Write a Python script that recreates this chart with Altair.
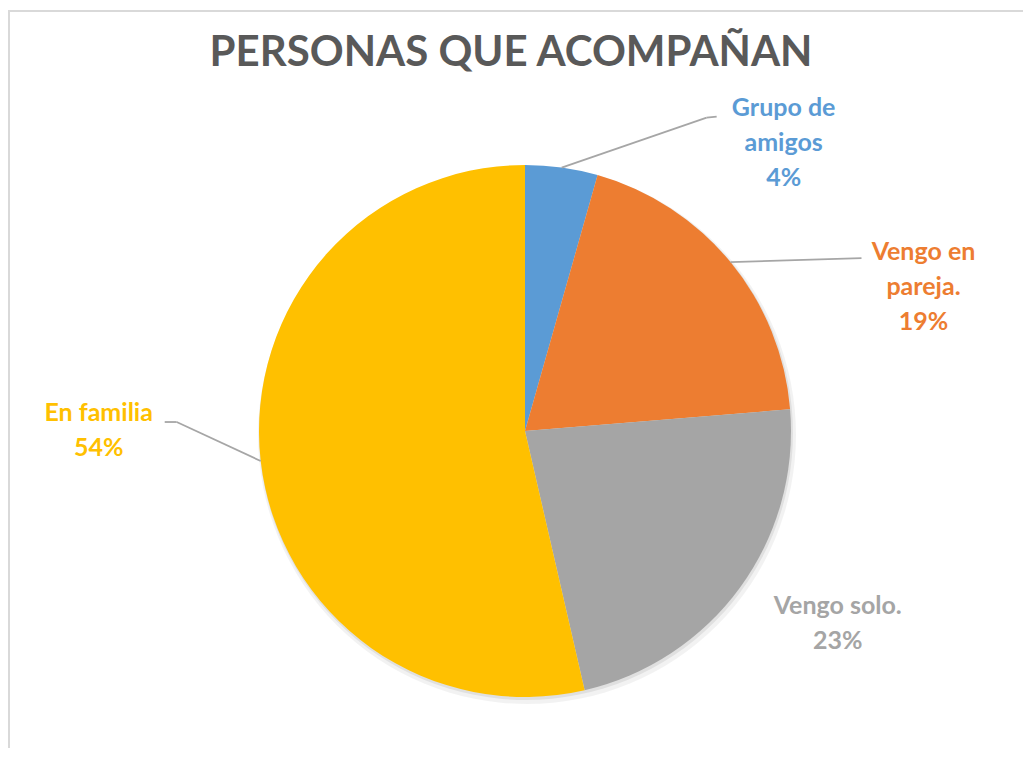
import altair as alt
import pandas as pd

# ---- data ----
categories = ["Grupo de amigos", "Vengo en pareja.", "Vengo solo.", "En familia"]
values = [4.4, 19.3, 22.7, 53.6]
label_names = ["Grupo de\namigos", "Vengo en\npareja.", "Vengo solo.", "En familia"]
colors = ["#5B9BD5", "#ED7D31", "#A5A5A5", "#FFC000"]
TITLE = "PERSONAS QUE ACOMPAÑAN"

total = sum(values)
pct = [f"{round(v / total * 100)}%" for v in values]
df = pd.DataFrame({
    "category": categories,
    "value": values,
    "idx": list(range(len(categories))),
    "label": [f"{n}\n{p}" for n, p in zip(label_names, pct)],
})

# ---- layout (pixels, plot coordinates) ----
CX, CY, R = 517, 423, 266
FONT = "Lato"
# label offset = position of the first text line, relative to the slice's edge midpoint
LAYOUT = {
    "Grupo de amigos": {"label": (222, -60), "leader": [(145, -50), (155, -51)]},
    "Vengo en pareja.": {"label": (193, -10), "leader": [(131, -4)]},
    "Vengo solo.": {"label": (98, 18), "leader": []},
    "En familia": {"label": (-162, -48), "leader": [(-84, -39), (-96, -39)]},
}

color_scale = alt.Scale(domain=categories, range=colors)
base = alt.Chart(df)

geo = base.transform_joinaggregate(tot="sum(value)").transform_window(
    cum="sum(value)", sort=[alt.SortField("idx")], frame=[None, 0]
).transform_calculate(
    mid="(datum.cum - datum.value/2) / datum.tot * 2 * PI",
).transform_calculate(
    ex=f"{CX} + {R} * sin(datum.mid)",
    ey=f"{CY} - {R} * cos(datum.mid)",
)


def pick(idx, comp):
    expr = "0"
    for cat, lay in LAYOUT.items():
        pts = lay["leader"]
        if idx == "label":
            v = lay["label"][comp]
        elif idx < len(pts):
            v = pts[idx][comp]
        else:
            continue
        expr = f"(datum.category === '{cat}' ? {v} : {expr})"
    return expr


pie = base.mark_arc(radius=R, stroke=None).encode(
    theta=alt.Theta("value:Q", stack=True),
    color=alt.Color("category:N", scale=color_scale, legend=None),
    order=alt.Order("idx:Q"),
    x=alt.value(CX),
    y=alt.value(CY),
)

one = alt.Chart(pd.DataFrame({"t": [TITLE]}))
shadow1 = one.mark_arc(radius=R + 3, theta=0, theta2=6.2832, color="#000000", opacity=0.05).encode(
    x=alt.value(CX + 2), y=alt.value(CY + 4))
shadow2 = one.mark_arc(radius=R + 1, theta=0, theta2=6.2832, color="#000000", opacity=0.07).encode(
    x=alt.value(CX + 1), y=alt.value(CY + 2))

# leader lines
leader_layers = []
max_seg = max(len(l["leader"]) for l in LAYOUT.values())
for i in range(max_seg):
    cats_i = [c for c, l in LAYOUT.items() if len(l["leader"]) > i]
    if i == 0:
        sx, sy = "datum.ex", "datum.ey"
    else:
        sx = f"datum.ex + {pick(i - 1, 0)}"
        sy = f"datum.ey + {pick(i - 1, 1)}"
    seg = geo.transform_filter(
        alt.FieldOneOfPredicate(field="category", oneOf=cats_i)
    ).transform_calculate(
        x1=sx, y1=sy,
        x2=f"datum.ex + {pick(i, 0)}", y2=f"datum.ey + {pick(i, 1)}",
    ).mark_rule(color="#A6A6A6", strokeWidth=1.8).encode(
        x=alt.X("x1:Q", scale=None),
        y=alt.Y("y1:Q", scale=None),
        x2="x2:Q",
        y2="y2:Q",
    )
    leader_layers.append(seg)

labels = geo.transform_calculate(
    lx=f"datum.ex + {pick('label', 0)}",
    ly=f"datum.ey + {pick('label', 1)}",
).mark_text(
    lineBreak="\n", align="center", baseline="middle", fontSize=25,
    font=FONT, fontWeight="bold", lineHeight=35,
).encode(
    x=alt.X("lx:Q", scale=None),
    y=alt.Y("ly:Q", scale=None),
    text="label:N",
    color=alt.Color("category:N", scale=color_scale, legend=None),
)

title = one.mark_text(
    fontSize=42, font=FONT, fontWeight="bold", color="#595959",
    align="center", baseline="middle",
).encode(text="t:N", x=alt.value(503), y=alt.value(45))

border_top = one.mark_rule(color="#D9D9D9", strokeWidth=2).encode(
    x=alt.value(0), x2=alt.value(1015), y=alt.value(3))
border_left = one.mark_rule(color="#D9D9D9", strokeWidth=2).encode(
    x=alt.value(1), y=alt.value(3), y2=alt.value(740))

chart = alt.layer(
    border_top, border_left, shadow1, shadow2, pie, *leader_layers, labels, title
).properties(
    width=1015, height=740, padding=0,
    autosize=alt.AutoSizeParams(type="none"),
    background="white",
).configure_view(stroke=None)

chart.save("out.html", embed_options={"renderer": "svg", "actions": False})
